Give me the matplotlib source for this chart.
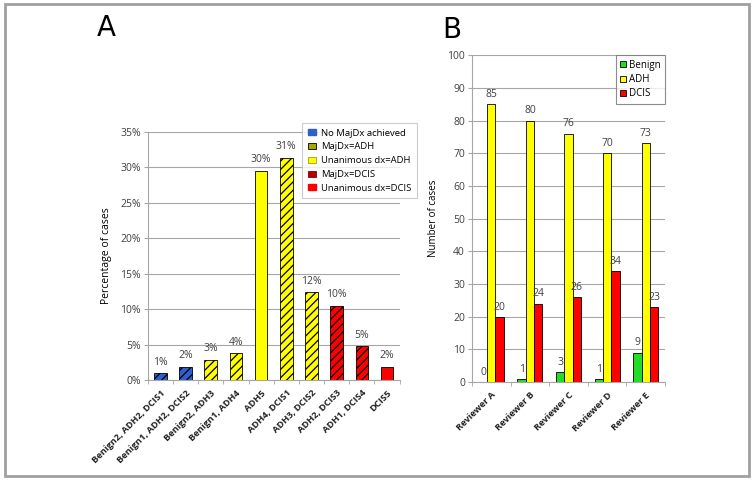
import matplotlib
matplotlib.use('Agg')
import matplotlib.pyplot as plt
from matplotlib.patches import Patch, Rectangle
from matplotlib.lines import Line2D
import numpy as np

# --- panel A data ---
combos = ['Benign2, ADH2, DCIS1', 'Benign1, ADH2, DCIS2', 'Benign2, ADH3',
          'Benign1, ADH4', 'ADH5', 'ADH4, DCIS1', 'ADH3, DCIS2',
          'ADH2, DCIS3', 'ADH1, DCIS4', 'DCIS5']
pct = [0.95, 1.9, 2.86, 3.81, 29.5, 31.4, 12.4, 10.5, 4.76, 1.9]
pct_labels = ['1%', '2%', '3%', '4%', '30%', '31%', '12%', '10%', '5%', '2%']
groups = ['none', 'none', 'majadh', 'majadh', 'unadh', 'majadh', 'majadh',
          'majdcis', 'majdcis', 'undcis']

# --- panel B data ---
reviewers = ['Reviewer A', 'Reviewer B', 'Reviewer C', 'Reviewer D', 'Reviewer E']
benign = [0, 1, 3, 1, 9]
adh = [85, 80, 76, 70, 73]
dcis = [20, 24, 26, 34, 23]

BLUE = '#2f5fcc'
YELLOW = '#ffff00'
RED = '#ff0000'
GREEN = '#22dd22'
GRID = '#a6a6a6'
TXT = '#404040'

fill = {'none': BLUE, 'majadh': YELLOW, 'unadh': YELLOW, 'majdcis': RED, 'undcis': RED}
hatch = {'none': '////', 'majadh': '////', 'unadh': None, 'majdcis': '////', 'undcis': None}

plt.rcParams['font.family'] = 'Open Sans'
plt.rcParams['hatch.linewidth'] = 0.9

fig = plt.figure(figsize=(7.54, 4.8), dpi=100)


def style_axes(ax):
    for s in ['top', 'right']:
        ax.spines[s].set_visible(False)
    for s in ['left', 'bottom']:
        ax.spines[s].set_color(GRID)
        ax.spines[s].set_linewidth(0.8)
    ax.yaxis.grid(True, color=GRID, linewidth=0.8)
    ax.set_axisbelow(True)
    ax.tick_params(axis='y', length=3, color=GRID, labelsize=7.5, labelcolor=TXT, pad=2)
    ax.tick_params(axis='x', which='major', length=0, pad=6)
    ax.tick_params(axis='x', which='minor', length=3, color=GRID)


# --- Panel A ---
axA = fig.add_axes([0.196, 0.208, 0.334, 0.517])
x = np.arange(len(combos))
for i in range(len(combos)):
    g = groups[i]
    axA.bar(x[i], pct[i], width=0.5, color=fill[g], edgecolor='black',
            linewidth=0.6, hatch=hatch[g])
    axA.annotate(pct_labels[i], (x[i], pct[i]), xytext=(0, 4),
                 textcoords='offset points', ha='center', va='bottom',
                 fontsize=7.5, color=TXT)
axA.set_xlim(-0.5, len(combos) - 0.5)
axA.set_ylim(0, 35)
axA.set_yticks(range(0, 36, 5))
axA.set_yticklabels([f'{v}%' for v in range(0, 36, 5)])
axA.set_xticks(x)
axA.set_xticks(np.arange(-0.5, len(combos)), minor=True)
axA.set_xticklabels(combos, rotation=45, ha='right', rotation_mode='anchor',
                    fontsize=6.7, fontweight='bold', color='#202020')
axA.set_ylabel('Percentage of cases', fontsize=7.5, color='black', labelpad=6)
style_axes(axA)

handlesA = [Patch(facecolor=BLUE, edgecolor=BLUE),
            Patch(facecolor='#a8a800', edgecolor='black', linewidth=0.6),
            Patch(facecolor=YELLOW, edgecolor='#a0a000', linewidth=0.6),
            Patch(facecolor='#b80000', edgecolor='#800000', linewidth=0.6),
            Patch(facecolor=RED, edgecolor=RED)]
labelsA = ['No MajDx achieved', 'MajDx=ADH', 'Unanimous dx=ADH', 'MajDx=DCIS',
           'Unanimous dx=DCIS']
legA = fig.legend(handlesA, labelsA, loc='upper left',
                  bbox_to_anchor=(302 / 754, 1 - 123 / 480), fontsize=6.8,
                  frameon=True, fancybox=False, handlelength=0.9, handleheight=0.6,
                  handletextpad=0.5, labelspacing=0.5, borderpad=0.6,
                  borderaxespad=0)
legA.get_frame().set_edgecolor('#c0c0c0')
legA.get_frame().set_linewidth(0.8)

# --- Panel B ---
axB = fig.add_axes([0.626, 0.204, 0.256, 0.681])
xb = np.arange(len(reviewers))
w = 0.215
for vals, off, col in [(benign, -w, GREEN), (adh, 0, YELLOW), (dcis, w, RED)]:
    axB.bar(xb + off, vals, width=w, color=col, edgecolor='black', linewidth=0.6)
    for xi, v in zip(xb + off, vals):
        axB.annotate(str(v), (xi, v), xytext=(0, 3), textcoords='offset points',
                     ha='center', va='bottom', fontsize=7.5, color=TXT)
axB.set_xlim(-0.5, len(reviewers) - 0.5)
axB.set_ylim(0, 100)
axB.set_yticks(range(0, 101, 10))
axB.set_xticks(xb)
axB.set_xticks(np.arange(-0.5, len(reviewers)), minor=True)
axB.set_xticklabels(reviewers, rotation=45, ha='right', rotation_mode='anchor',
                    fontsize=6.7, fontweight='bold', color='#202020')
axB.set_ylabel('Number of cases', fontsize=7, color='black', labelpad=6)
style_axes(axB)

handlesB = [Line2D([], [], marker='s', linestyle='', markersize=5,
                   markerfacecolor=c, markeredgecolor='black', markeredgewidth=0.6)
            for c in [GREEN, YELLOW, RED]]
legB = axB.legend(handlesB, ['Benign', 'ADH', 'DCIS'], loc='upper right',
                  fontsize=7, frameon=True, fancybox=False, handlelength=0.6,
                  handletextpad=0.3, labelspacing=0.35, borderpad=0.45,
                  borderaxespad=0)
legB.get_frame().set_edgecolor('#707070')
legB.get_frame().set_linewidth(0.8)

# panel letters
fig.text(106 / 754, 1 - 28 / 480, 'A', fontsize=20, ha='center', va='center',
         family='DejaVu Sans')
fig.text(452 / 754, 1 - 30 / 480, 'B', fontsize=20, ha='center', va='center',
         family='DejaVu Sans')

# outer frame
fig.patches.append(Rectangle((5 / 754, 4 / 480), 744 / 754, 472 / 480,
                             transform=fig.transFigure, fill=False,
                             edgecolor='#a0a0a0', linewidth=2))

fig.savefig('out.png', dpi=100)
